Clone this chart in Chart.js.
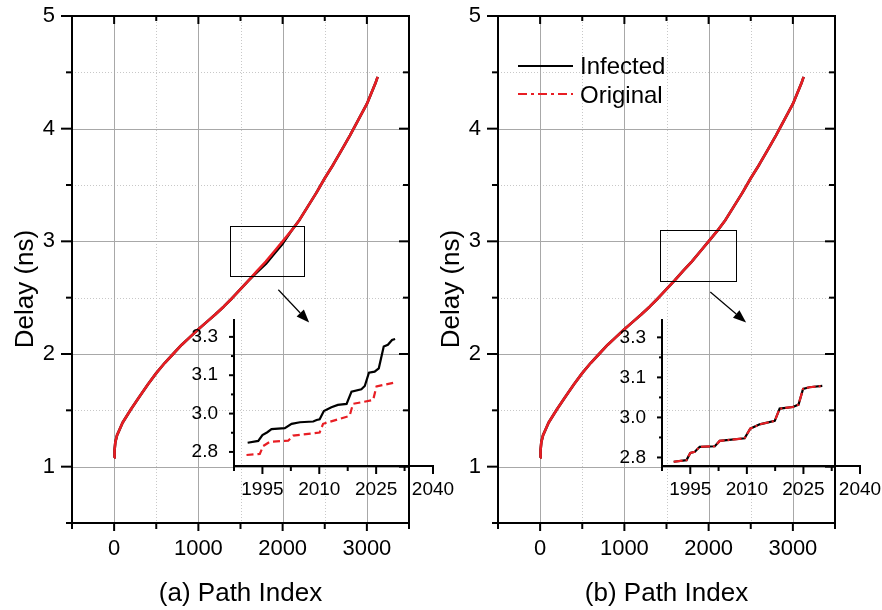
<!DOCTYPE html>
<html>
<head>
<meta charset="utf-8">
<script src="https://cdn.jsdelivr.net/npm/chart.js@4.4.0/dist/chart.umd.min.js"></script>
<style>
    html, body { margin: 0; padding: 0; background: #fff; }
    #wrap { position: relative; width: 882px; height: 610px; overflow: hidden; }
    canvas { position: absolute; }
</style>
</head>
<body>
<div id="wrap">
    <canvas id="mainA" width="441" height="610" style="left:0;top:0"></canvas>
    <canvas id="mainB" width="456" height="610" style="left:426px;top:0"></canvas>
    <canvas id="insetA" width="282" height="210" style="left:180px;top:300px"></canvas>
    <canvas id="insetB" width="282" height="210" style="left:608px;top:300px"></canvas>
</div>
<script>
// Main curves (path index vs delay in ns)
const pathIndex = [0, 5, 15, 35, 65, 100, 200, 300, 400, 500, 600, 700, 800, 900, 1000,
    1100, 1200, 1300, 1400, 1500, 1600, 1700, 1800, 1900, 2000, 2100, 2200, 2300, 2400,
    2500, 2600, 2700, 2800, 2900, 3000, 3050, 3100, 3128];
const originalDelay = [1.08, 1.15, 1.22, 1.28, 1.33, 1.39, 1.51, 1.62, 1.73, 1.83, 1.92, 2.00, 2.08, 2.15, 2.22,
    2.285, 2.35, 2.42, 2.495, 2.575, 2.655, 2.74, 2.82, 2.91, 3.00, 3.09, 3.19, 3.31, 3.43,
    3.56, 3.68, 3.81, 3.94, 4.08, 4.22, 4.31, 4.40, 4.46];
const infectedDelayA = [1.08, 1.15, 1.22, 1.28, 1.33, 1.39, 1.51, 1.62, 1.73, 1.83, 1.92, 2.00, 2.08, 2.15, 2.22,
    2.285, 2.35, 2.42, 2.495, 2.575, 2.655, 2.73, 2.80, 2.89, 2.98, 3.09, 3.19, 3.31, 3.43,
    3.56, 3.68, 3.81, 3.94, 4.08, 4.22, 4.31, 4.40, 4.46];
const infectedDelayB = [1.08, 1.15, 1.22, 1.28, 1.33, 1.39, 1.51, 1.62, 1.73, 1.83, 1.92, 2.00, 2.08, 2.15, 2.22,
    2.285, 2.35, 2.42, 2.495, 2.575, 2.655, 2.74, 2.82, 2.91, 3.00, 3.09, 3.19, 3.31, 3.43,
    3.56, 3.68, 3.81, 3.94, 4.08, 4.22, 4.31, 4.40, 4.46];

// Zoomed insets
const insetAInfectedX = [1991.1, 1993.9, 1995.0, 1996.3, 1997.4, 2000.9, 2002.7, 2004.9, 2008.4, 2009.3, 2010.1, 2011.2,
    2013.2, 2014.9, 2017.2, 2018.5, 2021.1, 2022.0, 2023.1, 2024.6, 2025.7, 2027.0, 2028.1, 2029.2, 2030.0];
const insetAInfectedY = [2.836, 2.843, 2.866, 2.877, 2.889, 2.893, 2.910, 2.916, 2.919, 2.925, 2.928, 2.960,
    2.975, 2.984, 2.988, 3.036, 3.045, 3.058, 3.110, 3.114, 3.127, 3.212, 3.219, 3.238, 3.242];
const insetAOriginalX = [1990.8, 1994.3, 1995.2, 1997.0, 2001.8, 2003.1, 2010.1, 2011.0, 2018.0, 2018.9, 2024.2, 2025.1, 2030.3];
const insetAOriginalY = [2.788, 2.792, 2.823, 2.840, 2.844, 2.864, 2.876, 2.910, 2.941, 2.988, 3.003, 3.056, 3.073];
const insetBX = [1990.6, 1994.0, 1995.0, 1996.2, 1997.5, 2001.5, 2002.8, 2009.4, 2010.9, 2013.4, 2017.4, 2018.7,
    2022.2, 2023.7, 2024.9, 2026.6, 2030.0];
const insetBInfectedY = [2.784, 2.790, 2.817, 2.821, 2.840, 2.842, 2.862, 2.872, 2.908, 2.924, 2.937, 2.983,
    2.989, 2.998, 3.057, 3.063, 3.068];
const insetBOriginalY = [2.784, 2.790, 2.817, 2.821, 2.840, 2.842, 2.862, 2.872, 2.908, 2.924, 2.937, 2.983,
    2.989, 2.998, 3.057, 3.063, 3.068];

// Ticks
const mainXTicks = [0, 1000, 2000, 3000];
const mainXMinor = [-500, 500, 1500, 2500, 3500];
const mainYTicks = [1, 2, 3, 4, 5];
const mainYMinor = [0.5, 1.5, 2.5, 3.5, 4.5];
const insetXTicks = [1995, 2010, 2025, 2040];
const insetXMinor = [1987.5, 2002.5, 2017.5, 2032.5];
const insetYTicks = [2.8, 2.95, 3.1, 3.25];
const insetYTickLabels = ['2.8', '3.0', '3.1', '3.3'];
const insetYMinor = [2.875, 3.025, 3.175];

const seriesNames = ['Infected', 'Original'];
const RED = 'rgb(232,30,36)';
const FONT = 'Liberation Sans, Arial, sans-serif';

const toPoints = (xs, ys) => xs.map((v, i) => ({ x: v, y: ys[i] }));

function strokeLine(ctx, x0, y0, x1, y1) {
    ctx.beginPath();
    ctx.moveTo(x0, y0);
    ctx.lineTo(x1, y1);
    ctx.stroke();
}

// Draws grid, frame, ticks, zoom box, arrow, legend and y title
const framePlugin = {
    id: 'frame',
    beforeDatasetsDraw(chart, args, o) {
        if (!o.grid) return;
        const { ctx, chartArea: a, scales: { x, y } } = chart;
        ctx.save();
        ctx.lineWidth = 1;
        ctx.strokeStyle = '#c8c8c8';
        ctx.setLineDash([1, 2]);
        o.xMinor.forEach(v => { const p = Math.round(x.getPixelForValue(v)) + 0.5; strokeLine(ctx, p, a.top, p, a.bottom); });
        o.yMinor.forEach(v => { const p = Math.round(y.getPixelForValue(v)) + 0.5; strokeLine(ctx, a.left, p, a.right, p); });
        ctx.setLineDash([]);
        ctx.strokeStyle = '#a8a8a8';
        o.xMajor.forEach(v => { const p = Math.round(x.getPixelForValue(v)) + 0.5; strokeLine(ctx, p, a.top, p, a.bottom); });
        o.yMajor.forEach(v => { const p = Math.round(y.getPixelForValue(v)) + 0.5; strokeLine(ctx, a.left, p, a.right, p); });
        ctx.restore();
    },
    afterDatasetsDraw(chart, args, o) {
        const { ctx, chartArea: a, scales: { x, y } } = chart;
        ctx.save();
        ctx.strokeStyle = '#000';
        ctx.fillStyle = '#000';
        ctx.setLineDash([]);

        // zoom box and arrow
        if (o.box) {
            ctx.lineWidth = 1;
            const bx0 = x.getPixelForValue(o.box[0]), bx1 = x.getPixelForValue(o.box[1]);
            const by0 = y.getPixelForValue(o.box[2]), by1 = y.getPixelForValue(o.box[3]);
            ctx.strokeRect(Math.round(bx0) + 0.5, Math.round(by1) + 0.5, Math.round(bx1 - bx0), Math.round(by0 - by1));
            const ax0 = x.getPixelForValue(o.arrow[0]), ay0 = y.getPixelForValue(o.arrow[1]);
            const ax1 = x.getPixelForValue(o.arrow[2]), ay1 = y.getPixelForValue(o.arrow[3]);
            const ang = Math.atan2(ay1 - ay0, ax1 - ax0);
            const hl = 13, hw = 5;
            const bxh = ax1 - hl * Math.cos(ang), byh = ay1 - hl * Math.sin(ang);
            ctx.lineWidth = 1.2;
            strokeLine(ctx, ax0, ay0, bxh, byh);
            ctx.beginPath();
            ctx.moveTo(ax1, ay1);
            ctx.lineTo(bxh + hw * Math.sin(ang), byh - hw * Math.cos(ang));
            ctx.lineTo(bxh - hw * Math.sin(ang), byh + hw * Math.cos(ang));
            ctx.closePath();
            ctx.fill();
        }

        // axis lines
        ctx.lineWidth = 2;
        ctx.lineCap = 'square';
        strokeLine(ctx, a.left, a.top, a.left, a.bottom);
        strokeLine(ctx, a.left, a.bottom, a.right, a.bottom);
        if (o.full) {
            strokeLine(ctx, a.left, a.top, a.right, a.top);
            strokeLine(ctx, a.right, a.top, a.right, a.bottom);
        }
        ctx.lineCap = 'butt';

        // tick marks
        const t = o.ticks;
        ctx.lineWidth = 2;
        const xt = (vals, len, top) => vals.forEach(v => {
            const p = x.getPixelForValue(v);
            strokeLine(ctx, p, a.bottom, p, a.bottom + len);
            if (top) strokeLine(ctx, p, a.top, p, a.top + top);
        });
        const yt = (vals, len, right) => vals.forEach(v => {
            const p = y.getPixelForValue(v);
            strokeLine(ctx, a.left, p, a.left - len, p);
            if (right) strokeLine(ctx, a.right, p, a.right - right, p);
        });
        xt(o.xMajor, t.bMajor, t.tMajor);
        xt(o.xMinor, t.bMinor, t.tMinor);
        yt(o.yMajor, t.lMajor, t.rMajor);
        yt(o.yMinor, t.lMinor, t.rMinor);

        // legend
        if (o.legend) {
            const L = o.legend;
            ctx.lineWidth = 2;
            ctx.strokeStyle = '#000';
            strokeLine(ctx, L.x0, L.y0, L.x1, L.y0);
            ctx.strokeStyle = RED;
            ctx.setLineDash([9, 4, 3, 4]);
            strokeLine(ctx, L.x0, L.y1, L.x1, L.y1);
            ctx.setLineDash([]);
            ctx.fillStyle = '#000';
            ctx.font = '24px ' + FONT;
            ctx.textBaseline = 'middle';
            ctx.textAlign = 'left';
            ctx.fillText(seriesNames[0], L.tx, L.y0 + 1);
            ctx.fillText(seriesNames[1], L.tx, L.y1 + 2);
        }

        // y axis title
        if (o.yTitle) {
            ctx.fillStyle = '#000';
            ctx.font = '26px ' + FONT;
            ctx.textAlign = 'center';
            ctx.textBaseline = 'middle';
            ctx.translate(o.yTitle.x, o.yTitle.y);
            ctx.rotate(-Math.PI / 2);
            ctx.fillText(o.yTitle.text, 0, 0);
        }
        ctx.restore();
    }
};

const fixedTicks = vals => scale => { scale.ticks = vals.map(v => ({ value: v })); };
// fix axis box size and drop the label overflow padding so the plot area is exact
const fixX = h => s => { s.height = h; s.paddingLeft = 0; s.paddingRight = 0; s.paddingTop = 0; s.paddingBottom = 0; };
const fixY = w => s => { s.width = w; s.paddingLeft = 0; s.paddingRight = 0; s.paddingTop = 0; s.paddingBottom = 0; };

function mainChart(id, infected, xTitle, canvasW, extra) {
    return new Chart(document.getElementById(id), {
        type: 'line',
        data: {
            datasets: [
                { label: seriesNames[1], data: toPoints(pathIndex, originalDelay), borderColor: RED, borderWidth: 2.6,
                  pointRadius: 0, order: 0, borderJoinStyle: 'round' },
                { label: seriesNames[0], data: toPoints(pathIndex, infected), borderColor: '#000', borderWidth: 2.6,
                  pointRadius: 0, order: 1, borderJoinStyle: 'round' }
            ]
        },
        options: {
            responsive: false,
            animation: false,
            devicePixelRatio: 1,
            layout: { padding: { left: 0, top: 16, right: canvasW - 409, bottom: 0 } },
            plugins: {
                legend: { display: false },
                tooltip: { enabled: false },
                frame: Object.assign({
                    grid: true, full: true,
                    xMajor: mainXTicks, xMinor: mainXMinor, yMajor: mainYTicks, yMinor: mainYMinor,
                    ticks: { bMajor: 8, bMinor: 6, tMajor: 8, tMinor: 5, lMajor: 11, lMinor: 6, rMajor: 10, rMinor: 6 },
                    yTitle: { text: 'Delay (ns)', x: 26, y: 289 }
                }, extra)
            },
            scales: {
                x: {
                    type: 'linear', min: -500, max: 3500,
                    afterBuildTicks: fixedTicks(mainXTicks),
                    afterFit: fixX(87),
                    grid: { display: false, drawTicks: false, tickLength: 0 },
                    border: { display: false },
                    ticks: { font: { family: FONT, size: 22 }, color: '#000', padding: 13, maxRotation: 0,
                             callback: v => String(v) },
                    title: { display: true, text: xTitle, color: '#000', font: { family: FONT, size: 26 },
                             padding: { top: 0, bottom: 1 } }
                },
                y: {
                    type: 'linear', min: 0.5, max: 5,
                    afterBuildTicks: fixedTicks(mainYTicks),
                    afterFit: fixY(72),
                    grid: { display: false, drawTicks: false, tickLength: 0 },
                    border: { display: false },
                    ticks: { font: { family: FONT, size: 22 }, color: '#000', padding: 17, callback: v => String(v) }
                }
            }
        },
        plugins: [framePlugin]
    });
}

function insetChart(id, infectedPts, originalPts, yMin, yMax, dash, left, right) {
    return new Chart(document.getElementById(id), {
        type: 'line',
        data: {
            datasets: [
                { label: seriesNames[1], data: originalPts, borderColor: RED, borderWidth: 2.2, borderDash: dash,
                  pointRadius: 0, order: 0 },
                { label: seriesNames[0], data: infectedPts, borderColor: '#000', borderWidth: 2.2,
                  pointRadius: 0, order: 1 }
            ]
        },
        options: {
            responsive: false,
            animation: false,
            devicePixelRatio: 1,
            layout: { padding: { left: 0, top: 20, right: 282 - right, bottom: 0 } },
            plugins: {
                legend: { display: false },
                tooltip: { enabled: false },
                frame: {
                    grid: false, full: false,
                    xMajor: insetXTicks, xMinor: insetXMinor, yMajor: insetYTicks, yMinor: insetYMinor,
                    ticks: { bMajor: 8, bMinor: 5, lMajor: 5, lMinor: 3 }
                }
            },
            scales: {
                x: {
                    type: 'linear', min: 1987.5, max: 2040,
                    afterBuildTicks: fixedTicks(insetXTicks),
                    afterFit: fixX(44),
                    grid: { display: false, drawTicks: false, tickLength: 0 },
                    border: { display: false },
                    ticks: { font: { family: FONT, size: 19 }, color: '#000', padding: 12, maxRotation: 0,
                             callback: v => String(v) }
                },
                y: {
                    type: 'linear', min: yMin, max: yMax,
                    afterBuildTicks: fixedTicks(insetYTicks),
                    afterFit: fixY(left),
                    grid: { display: false, drawTicks: false, tickLength: 0 },
                    border: { display: false },
                    ticks: { font: { family: FONT, size: 19 }, color: '#000', padding: 16,
                             callback: (v, i) => insetYTickLabels[i] }
                }
            }
        },
        plugins: [framePlugin]
    });
}

mainChart('mainA', infectedDelayA, '(a) Path Index', 441, {
    box: [1370, 2243, 2.70, 3.14],
    arrow: [1949, 2.57, 2315, 2.28]
});
mainChart('mainB', infectedDelayB, '(b) Path Index', 456, {
    box: [1417, 2314, 2.65, 3.10],
    arrow: [2020, 2.55, 2445, 2.28],
    legend: { x0: 92, x1: 147, y0: 66, y1: 94, tx: 154 }
});
insetChart('insetA', toPoints(insetAInfectedX, insetAInfectedY), toPoints(insetAOriginalX, insetAOriginalY),
    2.745, 3.316, [7, 4], 54, 253);
insetChart('insetB', toPoints(insetBX, insetBInfectedY), toPoints(insetBX, insetBOriginalY),
    2.768, 3.315, [9, 3, 2, 3], 54, 252);
</script>
</body>
</html>
